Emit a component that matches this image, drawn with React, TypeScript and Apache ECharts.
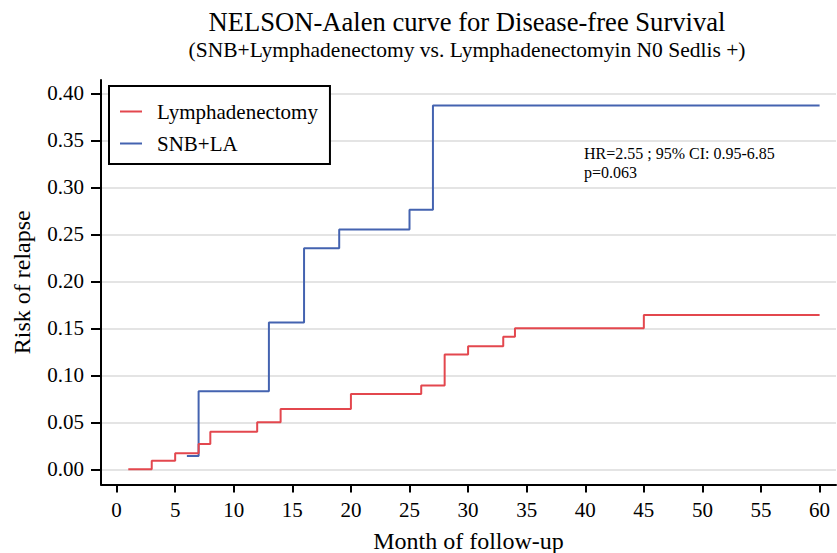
import React, { useEffect, useRef } from "react";
import * as echarts from "echarts";

const titleText = "NELSON-Aalen curve for Disease-free Survival";
const subtitleText = "(SNB+Lymphadenectomy vs. Lymphadenectomyin N0 Sedlis +)";
const annotationLines = ["HR=2.55 ; 95% CI: 0.95-6.85", "p=0.063"];
const xAxisName = "Month of follow-up";
const yAxisName = "Risk of relapse";

const seriesNames = ["Lymphadenectomy", "SNB+LA"];

// [month, cumulative hazard]
const lymphadenectomy: [number, number][] = [
  [1, 0.0],
  [3, 0.009],
  [5, 0.017],
  [7, 0.027],
  [8, 0.04],
  [12, 0.05],
  [14, 0.064],
  [20, 0.08],
  [26, 0.089],
  [28, 0.122],
  [30, 0.131],
  [33, 0.141],
  [34, 0.15],
  [45, 0.164],
  [60, 0.164],
];

const snbLa: [number, number][] = [
  [6, 0.014],
  [7, 0.083],
  [13, 0.156],
  [16, 0.235],
  [19, 0.255],
  [25, 0.276],
  [27, 0.387],
  [60, 0.387],
];

const xTicks = [0, 5, 10, 15, 20, 25, 30, 35, 40, 45, 50, 55, 60];
const yTicks = [0, 0.05, 0.1, 0.15, 0.2, 0.25, 0.3, 0.35, 0.4];

const FONT = "'Liberation Serif', 'Times New Roman', serif";
const RED = "#e3474e";
const BLUE = "#4463b0";

export default function App() {
  const ref = useRef<HTMLDivElement>(null);

  useEffect(() => {
    document.body.style.margin = "0";
    if (!ref.current) return;
    const chart = echarts.init(ref.current, undefined, { renderer: "svg" });
    chart.setOption({
      animation: false,
      backgroundColor: "#ffffff",
      textStyle: { fontFamily: FONT, color: "#000" },
      grid: {
        left: 101,
        right: 1,
        top: 80,
        bottom: 68.5,
        containLabel: false,
        outerBoundsMode: "none",
      },
      legend: {
        data: seriesNames,
        orient: "vertical",
        left: 109,
        top: 86,
        backgroundColor: "#ffffff",
        borderColor: "#000000",
        borderWidth: 2,
        borderRadius: 0,
        padding: [15, 12, 10, 11],
        itemGap: 11,
        itemWidth: 22,
        itemHeight: 2,
        icon: "rect",
        textStyle: {
          fontFamily: FONT,
          fontSize: 21,
          color: "#000",
          padding: [0, 0, 0, 10],
        },
      },
      xAxis: {
        type: "value",
        min: -1.33,
        max: 61.4,
        name: xAxisName,
        nameLocation: "middle",
        nameGap: 44.5,
        nameTextStyle: { fontFamily: FONT, fontSize: 24, color: "#000" },
        axisLine: { show: true, onZero: false, lineStyle: { color: "#000", width: 2 } },
        axisTick: {
          show: true,
          customValues: xTicks,
          length: 8,
          lineStyle: { color: "#000", width: 2 },
        },
        axisLabel: {
          customValues: xTicks,
          fontFamily: FONT,
          fontSize: 21,
          color: "#000",
          margin: 15,
        },
        splitLine: { show: false },
      },
      yAxis: {
        type: "value",
        min: -0.0162,
        max: 0.4141,
        name: yAxisName,
        nameLocation: "middle",
        nameGap: 66.7,
        nameTextStyle: { fontFamily: FONT, fontSize: 24, color: "#000" },
        axisLine: { show: true, onZero: false, lineStyle: { color: "#000", width: 2 } },
        axisTick: {
          show: true,
          customValues: yTicks,
          length: 10,
          lineStyle: { color: "#000", width: 2 },
        },
        axisLabel: {
          customValues: yTicks,
          fontFamily: FONT,
          fontSize: 21,
          color: "#000",
          margin: 17,
          formatter: (v: number) => v.toFixed(2),
        },
        splitLine: { show: true, lineStyle: { color: "#e4e4e4", width: 2 } },
      },
      series: [
        {
          name: seriesNames[0],
          type: "line",
          step: "end",
          data: lymphadenectomy,
          showSymbol: false,
          symbol: "none",
          color: RED,
          lineStyle: { color: RED, width: 2 },
          z: 3,
        },
        {
          name: seriesNames[1],
          type: "line",
          step: "end",
          data: snbLa,
          showSymbol: false,
          symbol: "none",
          color: BLUE,
          lineStyle: { color: BLUE, width: 2 },
          z: 2,
        },
      ],
      graphic: [
        {
          type: "text",
          x: 467,
          y: 22,
          style: {
            text: titleText,
            fontFamily: FONT,
            fontSize: 26.6,
            fill: "#000",
            textAlign: "center",
            textVerticalAlign: "middle",
          },
        },
        {
          type: "text",
          x: 467,
          y: 50,
          style: {
            text: subtitleText,
            fontFamily: FONT,
            fontSize: 21.5,
            fill: "#000",
            textAlign: "center",
            textVerticalAlign: "middle",
          },
        },
        {
          type: "text",
          x: 584,
          y: 144,
          style: {
            text: annotationLines.join("\n"),
            fontFamily: FONT,
            fontSize: 16,
            lineHeight: 19,
            fill: "#000",
            textAlign: "left",
            textVerticalAlign: "top",
          },
        },
      ],
    });
    return () => chart.dispose();
  }, []);

  return <div ref={ref} style={{ width: 837, height: 553 }} />;
}
